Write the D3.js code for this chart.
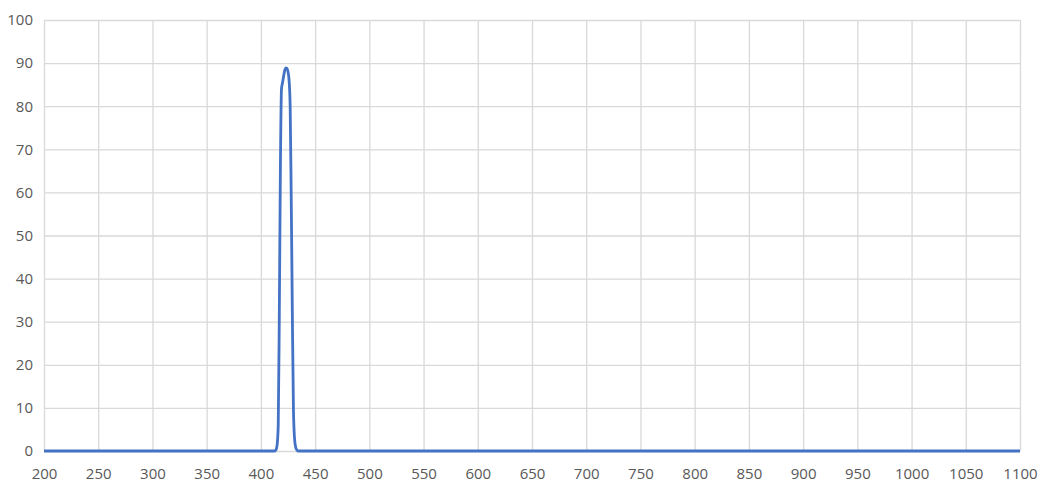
<!DOCTYPE html>
<html lang="en">
<head>
  <meta charset="UTF-8">
  <title>Transmission spectrum</title>
  <script src="https://d3js.org/d3.v7.min.js"></script>
  <style>
    body { margin: 0; background: #fff; }
    .tick text { font-family: "Open Sans", "Liberation Sans", sans-serif; font-size: 15px; fill: #595959; }
    .grid line { stroke: #d9d9d9; stroke-width: 1.3px; }
    .domain { display: none; }
  </style>
</head>
<body>
  <svg id="chart" width="1043" height="489"></svg>
  <script>
    // wavelength (nm) and transmission (%)
    const wavelengths = [200, 410, 413, 414, 415, 416, 417, 418, 419, 420, 421, 422, 423, 424, 425, 426, 427, 428, 429, 430, 431, 432, 433, 434, 1100];
    const transmission = [0, 0, 0, 0.3, 1.5, 6, 32, 66, 84, 85.5, 87, 88.3, 88.9, 88.8, 88, 86, 80, 58, 32, 10, 3, 1, 0.3, 0, 0];

    const xTicks = d3.range(200, 1101, 50);
    const yTicks = d3.range(0, 101, 10);

    const margin = { left: 44, right: 23, top: 20, bottom: 38 };
    const width = 1043, height = 489;
    const svg = d3.select("#chart");

    const x = d3.scaleLinear().domain([200, 1100]).range([margin.left, width - margin.right]);
    const y = d3.scaleLinear().domain([0, 100]).range([height - margin.bottom, margin.top]);

    // gridlines
    svg.append("g")
      .attr("class", "grid")
      .attr("transform", `translate(0,${height - margin.bottom})`)
      .call(d3.axisBottom(x).tickValues(xTicks).tickSize(-(height - margin.top - margin.bottom)).tickFormat(""));

    svg.append("g")
      .attr("class", "grid")
      .attr("transform", `translate(${margin.left},0)`)
      .call(d3.axisLeft(y).tickValues(yTicks).tickSize(-(width - margin.left - margin.right)).tickFormat(""));

    // axis labels
    svg.append("g")
      .attr("transform", `translate(0,${height - margin.bottom})`)
      .call(d3.axisBottom(x).tickValues(xTicks).tickSize(0).tickPadding(17).tickFormat(d3.format("d")));

    svg.append("g")
      .attr("transform", `translate(${margin.left},0)`)
      .call(d3.axisLeft(y).tickValues(yTicks).tickSize(0).tickPadding(11));

    const pts = wavelengths.map((w, i) => [w, transmission[i]]);
    svg.append("path")
      .datum(pts)
      .attr("fill", "none")
      .attr("stroke", "#4472C4")
      .attr("stroke-width", 2.8)
      .attr("stroke-linejoin", "round")
      .attr("d", d3.line().x(d => x(d[0])).y(d => y(d[1])).curve(d3.curveMonotoneX));
  </script>
</body>
</html>
